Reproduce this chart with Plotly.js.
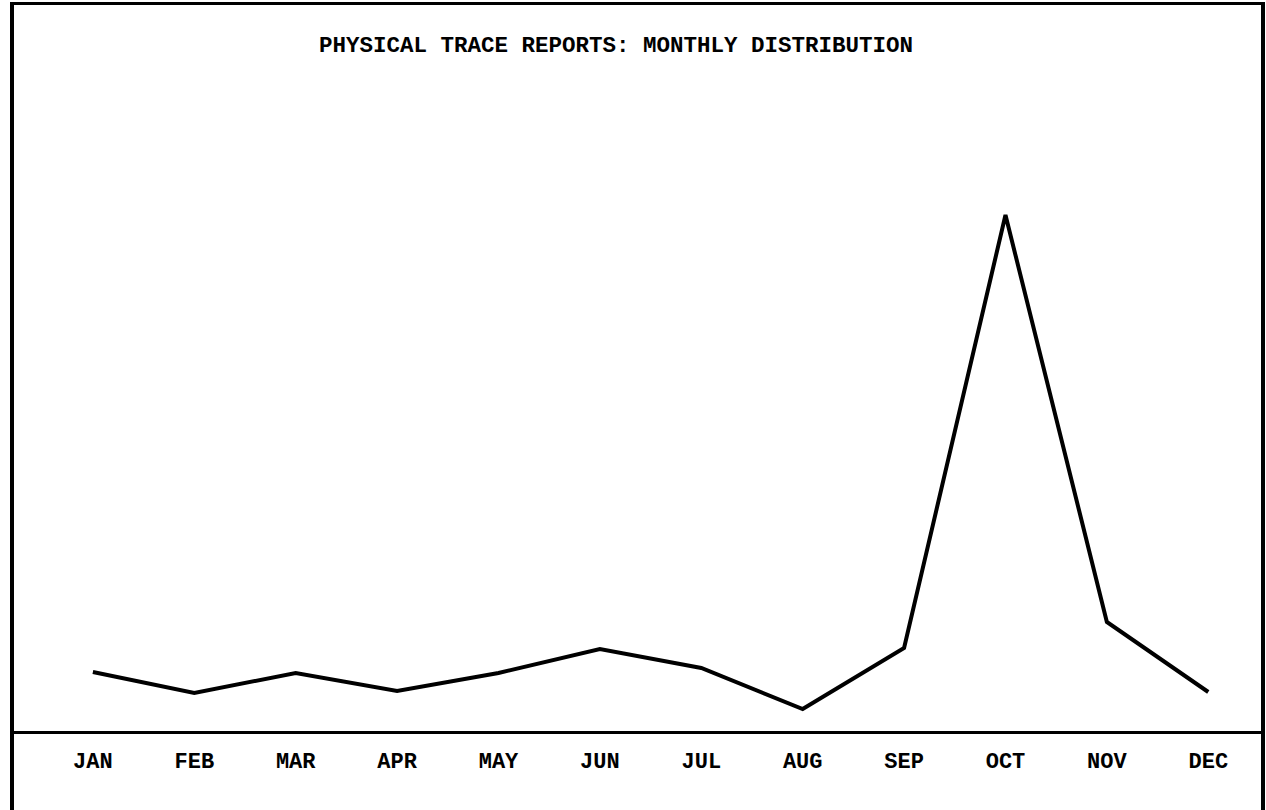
<!DOCTYPE html>
<html>
<head>
<meta charset="utf-8">
<script src="https://cdn.plot.ly/plotly-3.0.1.min.js"></script>
<style>html,body{margin:0;padding:0;background:#fff;}#chart{width:1266px;height:810px;}</style>
</head>
<body>
<div id="chart"></div>
<script>
const months = ["JAN","FEB","MAR","APR","MAY","JUN","JUL","AUG","SEP","OCT","NOV","DEC"];
const reports = [5.9, 3.8, 5.8, 4.0, 5.8, 8.2, 6.3, 2.2, 8.3, 51.6, 10.9, 3.9];
const chartTitle = "PHYSICAL TRACE REPORTS: MONTHLY DISTRIBUTION";

const fontFam = "'Liberation Mono', 'Courier New', monospace";

const trace = {
  x: months.map((m, i) => i),
  y: reports,
  type: "scatter",
  mode: "lines",
  line: {color: "#000", width: 4},
  hoverinfo: "skip"
};

const layout = {
  width: 1266, height: 810,
  paper_bgcolor: "#fff", plot_bgcolor: "#fff",
  margin: {l: 14, r: 5, t: 5, b: 79, pad: 0},
  showlegend: false,
  title: {
    text: chartTitle,
    font: {family: fontFam, size: 22.5, color: "#000", weight: "bold"},
    xref: "container", yref: "container",
    x: 0.4866, y: 0.9457, xanchor: "center", yanchor: "middle"
  },
  xaxis: {
    range: [-0.778, 11.52],
    tickmode: "array",
    tickvals: months.map((m, i) => i),
    ticktext: months,
    showgrid: false, zeroline: false,
    showline: true, linecolor: "#000", linewidth: 3, mirror: true,
    ticks: "", ticklabelstandoff: 8,
    tickfont: {family: fontFam, size: 22, color: "#000", weight: "bold"},
    fixedrange: true
  },
  yaxis: {
    range: [0, 72.6],
    showgrid: false, zeroline: false, showticklabels: false,
    showline: true, linecolor: "#000", linewidth: 4, mirror: true,
    ticks: "", fixedrange: true
  },
  shapes: [
    {type: "line", xref: "paper", yref: "paper", x0: -0.0016, x1: -0.0016, y0: 0, y1: -0.12, line: {color: "#000", width: 4}},
    {type: "line", xref: "paper", yref: "paper", x0: 1.0016, x1: 1.0016, y0: 0, y1: -0.12, line: {color: "#000", width: 4}}
  ]
};

Plotly.newPlot("chart", [trace], layout, {displayModeBar: false, staticPlot: true});
</script>
</body>
</html>
